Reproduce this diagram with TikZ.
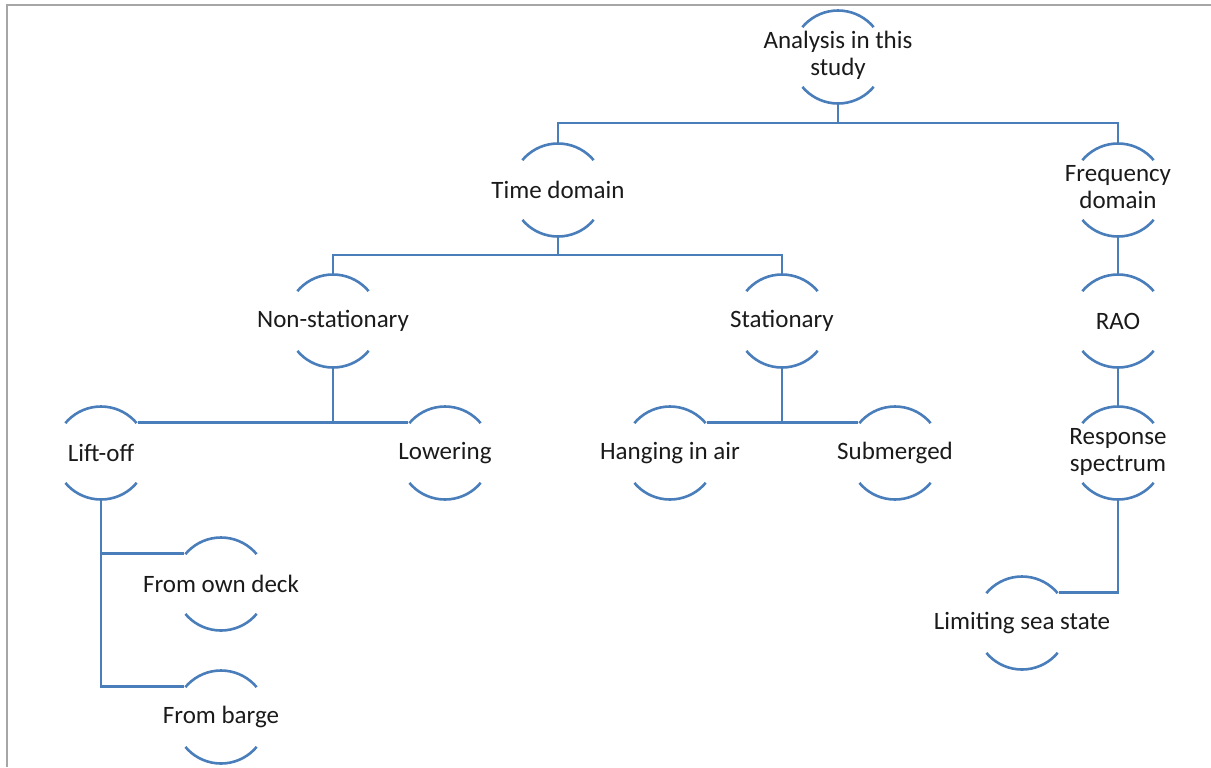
\documentclass[tikz,border=0pt]{standalone}
\usepackage{fontspec}
\setmainfont{Carlito}
\definecolor{capblue}{HTML}{4A7EBB}
\definecolor{framegray}{HTML}{A6A6A6}
\definecolor{textgray}{HTML}{1A1A1A}
\begin{document}
\begin{tikzpicture}[x=0.5pt, y=-0.5pt]
        % Define styles for shapes
        \tikzset{
            capnode/.style={circle, draw=capblue, line width=1.3pt, minimum size=46.5pt, inner sep=0pt,
                dash pattern=on 40.58pt off 32.46pt, dash phase=56.81pt,
                text=textgray, font=\fontsize{12.5pt}{13.4pt}\selectfont},
            link/.style={draw=capblue, line width=1.3pt}
        }
        \useasboundingbox (0,0) rectangle (1211,767);
        \draw[framegray, line width=1pt] (7,767) -- (7,5) -- (1211,5);
        % Draw shapes
        \node[capnode] (study) at (838, 57) {\makebox[0pt]{\raisebox{-1.5pt}{\begin{tabular}{c} Analysis in this \\ study \end{tabular}}}};
        \node[capnode] (time) at (558, 190) {\makebox[0pt]{Time domain}};
        \node[capnode] (freq) at (1118, 190) {\makebox[0pt]{\raisebox{-1.5pt}{\begin{tabular}{c} Frequency \\ domain \end{tabular}}}};
        \node[capnode] (nonstat) at (333, 321) {\makebox[0pt]{Non-stationary}};
        \node[capnode] (stat) at (782, 321) {\makebox[0pt]{Stationary}};
        \node[capnode] (rao) at (1118, 321) {\makebox[0pt]{RAO}};
        \node[capnode] (liftoff) at (101, 453) {\makebox[0pt]{Lift-off}};
        \node[capnode] (lower) at (445, 453) {\makebox[0pt]{Lowering}};
        \node[capnode] (hang) at (670, 453) {\makebox[0pt]{Hanging in air}};
        \node[capnode] (sub) at (895, 453) {\makebox[0pt]{Submerged}};
        \node[capnode] (resp) at (1118, 453) {\makebox[0pt]{\raisebox{-1.5pt}{\begin{tabular}{c} Response \\ spectrum \end{tabular}}}};
        \node[capnode] (limit) at (1022, 623) {\makebox[0pt]{Limiting sea state}};
        \node[capnode] (deck) at (221, 584) {\makebox[0pt]{From own deck}};
        \node[capnode] (barge) at (221, 717) {\makebox[0pt]{From barge}};
        \coordinate (bus1) at (838, 123);
        \coordinate (bus2) at (558, 255);
        % Draw connectors
        \draw[link] (study.south) -- (bus1) -| (time.north);
        \draw[link] (bus1) -| (freq.north);
        \draw[link] (time.south) -- (bus2) -| (nonstat.north);
        \draw[link] (bus2) -| (stat.north);
        \draw[link] (freq.south) -- (rao.north);
        \draw[link] (rao.south) -- (resp.north);
        \draw[link] (nonstat.south) -- (nonstat.south |- liftoff.40);
        \draw[link] (liftoff.40) -- (lower.140);
        \draw[link] (stat.south) -- (stat.south |- hang.40);
        \draw[link] (hang.40) -- (sub.140);
        \draw[link] (liftoff.south) |- (deck.140);
        \draw[link] (liftoff.south) |- (barge.140);
        \draw[link] (resp.south) |- (limit.40);
    \end{tikzpicture}
\end{document}
